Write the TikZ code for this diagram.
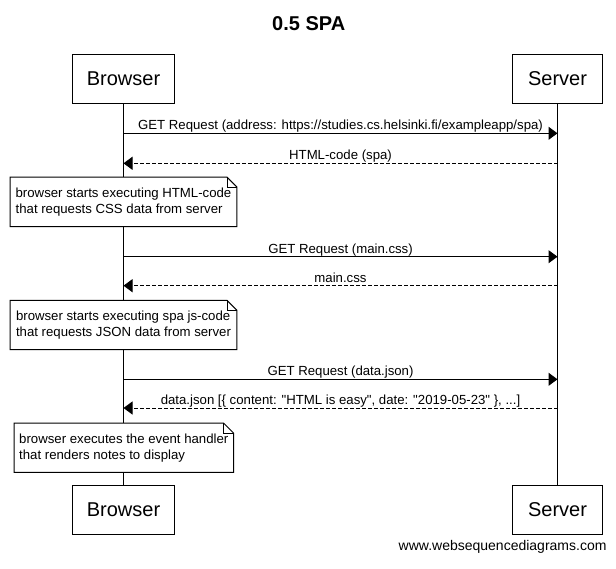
\documentclass[tikz,border=0pt]{standalone}
\usepackage{fontspec}
\setmainfont{Liberation Sans}[Ligatures=TeXOff]
\usetikzlibrary{arrows.meta}
\begin{document}
\begin{tikzpicture}[x=1pt,y=-1pt,
  actor/.style={draw, line width=1pt, fill=white, minimum height=49pt, inner sep=0pt, font=\fontsize{20}{24}\selectfont},
  life/.style={line width=1pt},
  msg/.style={line width=1pt, -{Triangle[length=9pt,width=13pt]}},
  reply/.style={msg, dash pattern=on 4pt off 2pt},
  lbl/.style={font=\fontsize{13.2}{16}\selectfont, anchor=base, inner sep=0pt, yshift=3.5pt},
  note/.style={fill=white, align=left, inner xsep=0pt, inner ysep=0pt, minimum height=49pt, font=\fontsize{13.2}{16}\selectfont},
  noteline/.style={line width=1pt},
  fold/.style={line width=0.7pt},
]
\useasboundingbox (0,0) rectangle (616,568);

% title
\node[font=\bfseries\fontsize{20}{24}\selectfont, anchor=base, inner sep=0pt] (title) at (308.7,30.7) {0.5 SPA};

% participants
\node[actor, minimum width=102pt] (bt) at (123.5,78.8) {Browser};
\node[actor, minimum width=90pt] (st) at (557.5,78.8) {Server};
\node[actor, minimum width=102pt] (bb) at (123.5,509.7) {Browser};
\node[actor, minimum width=90pt] (sb) at (557.5,509.7) {Server};

% lifelines
\draw[life] (bt.south) -- (bb.north);
\draw[life] (st.south) -- (sb.north);

% notes
\node[note, minimum width=226.4pt] (n1) at (123.5,201.8) {browser starts executing HTML-code\\that requests CSS data from server};
\node[note, minimum width=226.4pt] (n2) at (123.5,325) {browser starts executing spa js-code\\that requests JSON data from server};
\node[note, minimum width=219pt] (n3) at (123.8,447.7) {browser executes the event handler\\that renders notes to display};
\foreach \n in {n1,n2,n3}{
  \draw[noteline] (\n.north west) -- ([xshift=-10pt]\n.north east) -- ([yshift=-10pt]\n.north east) -- (\n.south east) -- (\n.south west) -- cycle;
  \draw[fold] ([xshift=-10pt]\n.north east) -- ([xshift=-10pt,yshift=-10pt]\n.north east) -- ([yshift=-10pt]\n.north east);
}

% message end points
\coordinate (b1) at (123.5,133.3); \coordinate (s1) at (557.5,133.3);
\coordinate (b2) at (123.5,163.3); \coordinate (s2) at (557.5,163.3);
\coordinate (b3) at (123.5,256.7); \coordinate (s3) at (557.5,256.7);
\coordinate (b4) at (123.5,285.7); \coordinate (s4) at (557.5,285.7);
\coordinate (b5) at (123.5,379.3); \coordinate (s5) at (557.5,379.3);
\coordinate (b6) at (123.5,408); \coordinate (s6) at (557.5,408);

% messages
\draw[msg] (b1) -- node[lbl] {GET Request (address: https://studies.cs.helsinki.fi/exampleapp/spa)} (s1);
\draw[reply] (s2) -- node[lbl] {HTML-code (spa)} (b2);
\draw[msg] (b3) -- node[lbl] {GET Request (main.css)} (s3);
\draw[reply] (s4) -- node[lbl] {main.css} (b4);
\draw[msg] (b5) -- node[lbl] {GET Request (data.json)} (s5);
\draw[reply] (s6) -- node[lbl] {data.json [\{ content: "HTML is easy", date: "2019-05-23" \}, ...]} (b6);

% footer
\node[font=\fontsize{14}{16}\selectfont, anchor=base east, inner sep=0pt] (foot) at (606.7,550.5) {www.websequencediagrams.com};
\end{tikzpicture}
\end{document}
